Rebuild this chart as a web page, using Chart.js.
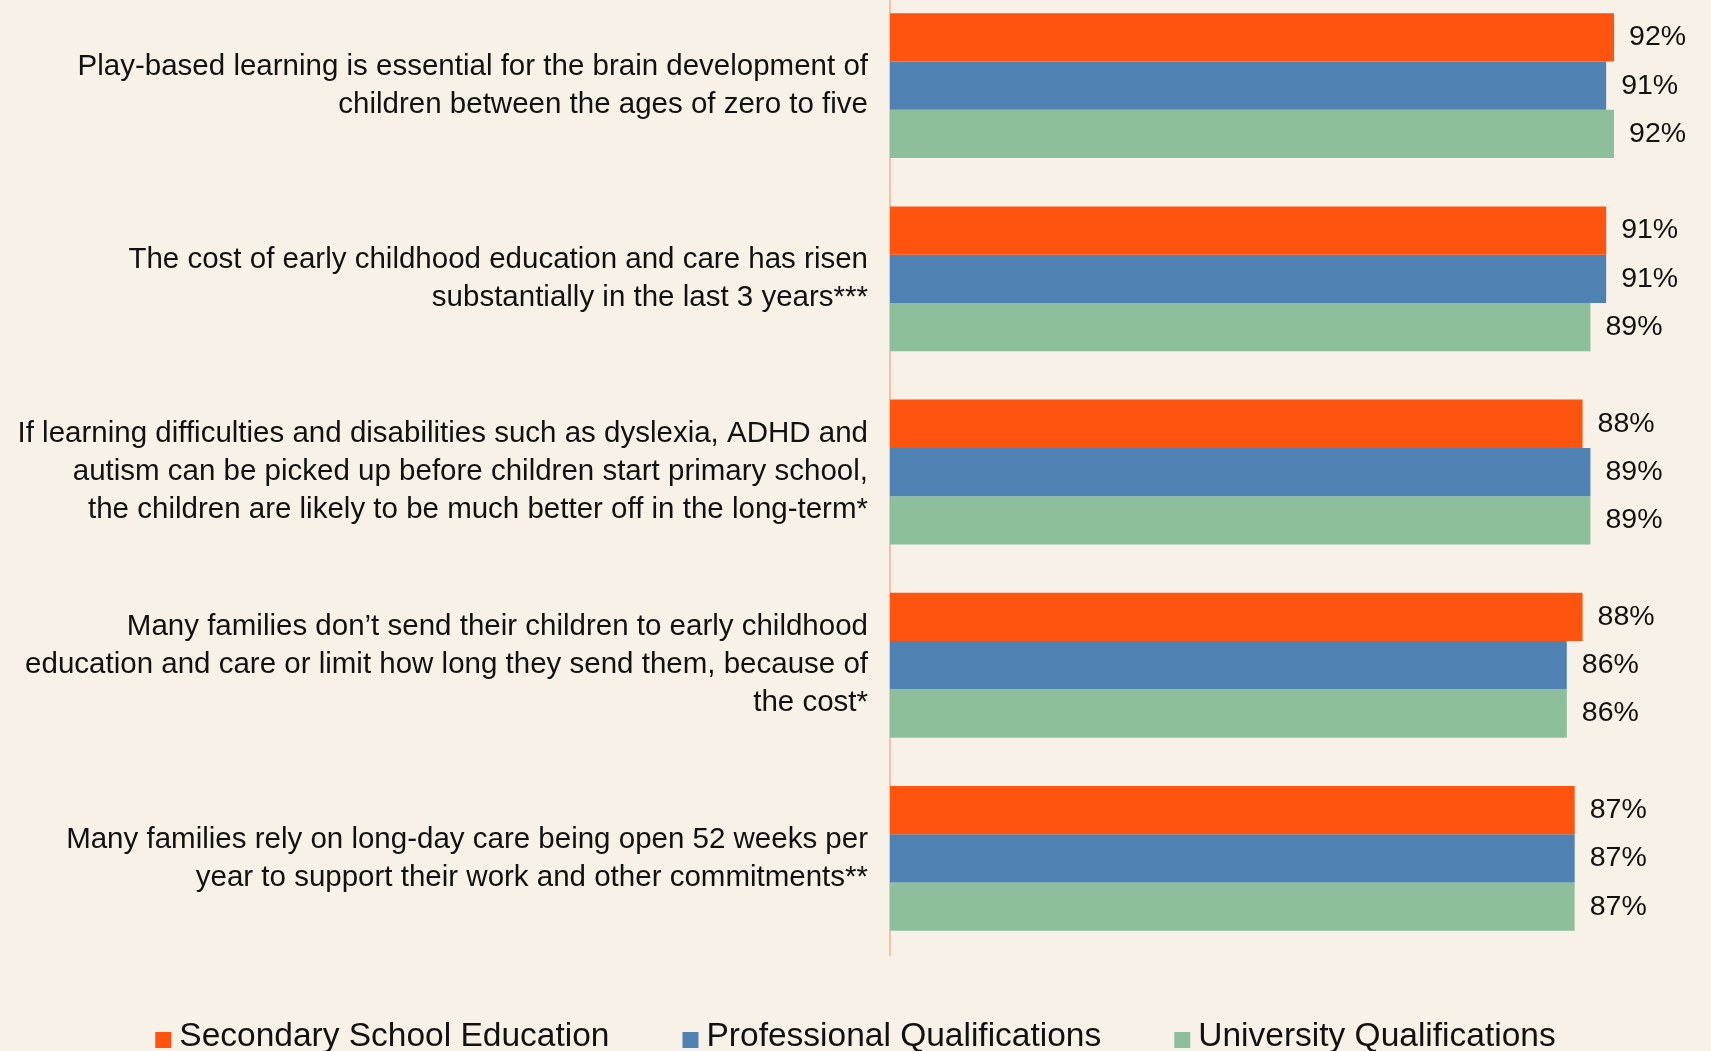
<!DOCTYPE html>
<html>
<head>
<meta charset="utf-8">
<script src="https://cdn.jsdelivr.net/npm/chart.js@4/dist/chart.umd.min.js"></script>
<style>
  html, body { margin: 0; padding: 0; background: #f8f1e7; overflow: hidden; }
  #wrap { position: absolute; left: 0; top: -71px; width: 1711px; height: 1122px; }
</style>
</head>
<body>
<div id="wrap"><canvas id="chart"></canvas></div>
<script>
// Statements (y categories)
const statements = [
    ["Play-based learning is essential for the brain development of", "children between the ages of zero to five"],
    ["The cost of early childhood education and care has risen", "substantially in the last 3 years***"],
    ["If learning difficulties and disabilities such as dyslexia, ADHD and", "autism can be picked up before children start primary school,", "the children are likely to be much better off in the long-term*"],
    ["Many families don\u2019t send their children to early childhood", "education and care or limit how long they send them, because of", "the cost*"],
    ["Many families rely on long-day care being open 52 weeks per", "year to support their work and other commitments**"]
];

// Agreement (%) by highest education level
const secondary = [92, 91, 88, 88, 87];
const professional = [91, 91, 89, 86, 87];
const university = [92, 89, 89, 86, 87];

const seriesNames = ["Secondary School Education", "Professional Qualifications", "University Qualifications"];
const seriesColors = ["#ff5410", "#4f82b2", "#8ebf9d"];

const fontFamily = "'Liberation Sans', Arial, sans-serif";

// Draw the value labels to the right of each bar
const valueLabels = {
    id: "valueLabels",
    afterDatasetsDraw(chart) {
        const ctx = chart.ctx;
        ctx.save();
        ctx.font = `28.5px ${fontFamily}`;
        ctx.fillStyle = "#111111";
        ctx.textAlign = "left";
        ctx.textBaseline = "middle";
        chart.data.datasets.forEach((ds, i) => {
            chart.getDatasetMeta(i).data.forEach((bar, j) => {
                ctx.fillText(ds.data[j] + "%", bar.x + 15, bar.y);
            });
        });
        ctx.restore();
    }
};

// Legend row under the chart: small square, tight gap, wide spacing between items
const bottomLegend = {
    id: "bottomLegend",
    afterDraw(chart) {
        const ctx = chart.ctx;
        const box = 16, gap = 8, spacing = 73;
        ctx.save();
        ctx.font = `33.5px ${fontFamily}`;
        ctx.textBaseline = "alphabetic";
        const items = chart.data.datasets.map(ds => ({
            text: ds.label,
            color: ds.backgroundColor,
            w: box + gap + ctx.measureText(ds.label).width
        }));
        const total = items.reduce((s, it) => s + it.w, 0) + spacing * (items.length - 1);
        let x = (chart.width - total) / 2;
        const baseline = chart.chartArea.bottom + 91;
        items.forEach(it => {
            ctx.fillStyle = it.color;
            ctx.fillRect(x, baseline - 14, box, box);
            ctx.fillStyle = "#111111";
            ctx.fillText(it.text, x + box + gap, baseline);
            x += it.w + spacing;
        });
        ctx.restore();
    }
};

const ctx = document.getElementById("chart").getContext("2d");

new Chart(ctx, {
    type: "bar",
    data: {
        labels: statements,
        datasets: [secondary, professional, university].map((vals, i) => ({
            label: seriesNames[i],
            data: vals,
            backgroundColor: seriesColors[i],
            barPercentage: 1.0,
            categoryPercentage: 0.75
        }))
    },
    options: {
        indexAxis: "y",
        responsive: true,
        maintainAspectRatio: false,
        animation: false,
        layout: { padding: { left: 0, right: 34, top: 0, bottom: 96 } },
        scales: {
            x: {
                display: false,
                min: 0,
                max: 100
            },
            y: {
                grid: { display: false, drawTicks: false },
                border: { display: true, color: "#f6c2a5", width: 2 },
                ticks: {
                    color: "#111111",
                    padding: 22,
                    font: { family: fontFamily, size: 29.5, lineHeight: 1.29 }
                },
                afterFit(scale) { scale.width = 890; }
            }
        },
        plugins: {
            legend: { display: false },
            tooltip: { enabled: false }
        }
    },
    plugins: [valueLabels, bottomLegend]
});
</script>
</body>
</html>
